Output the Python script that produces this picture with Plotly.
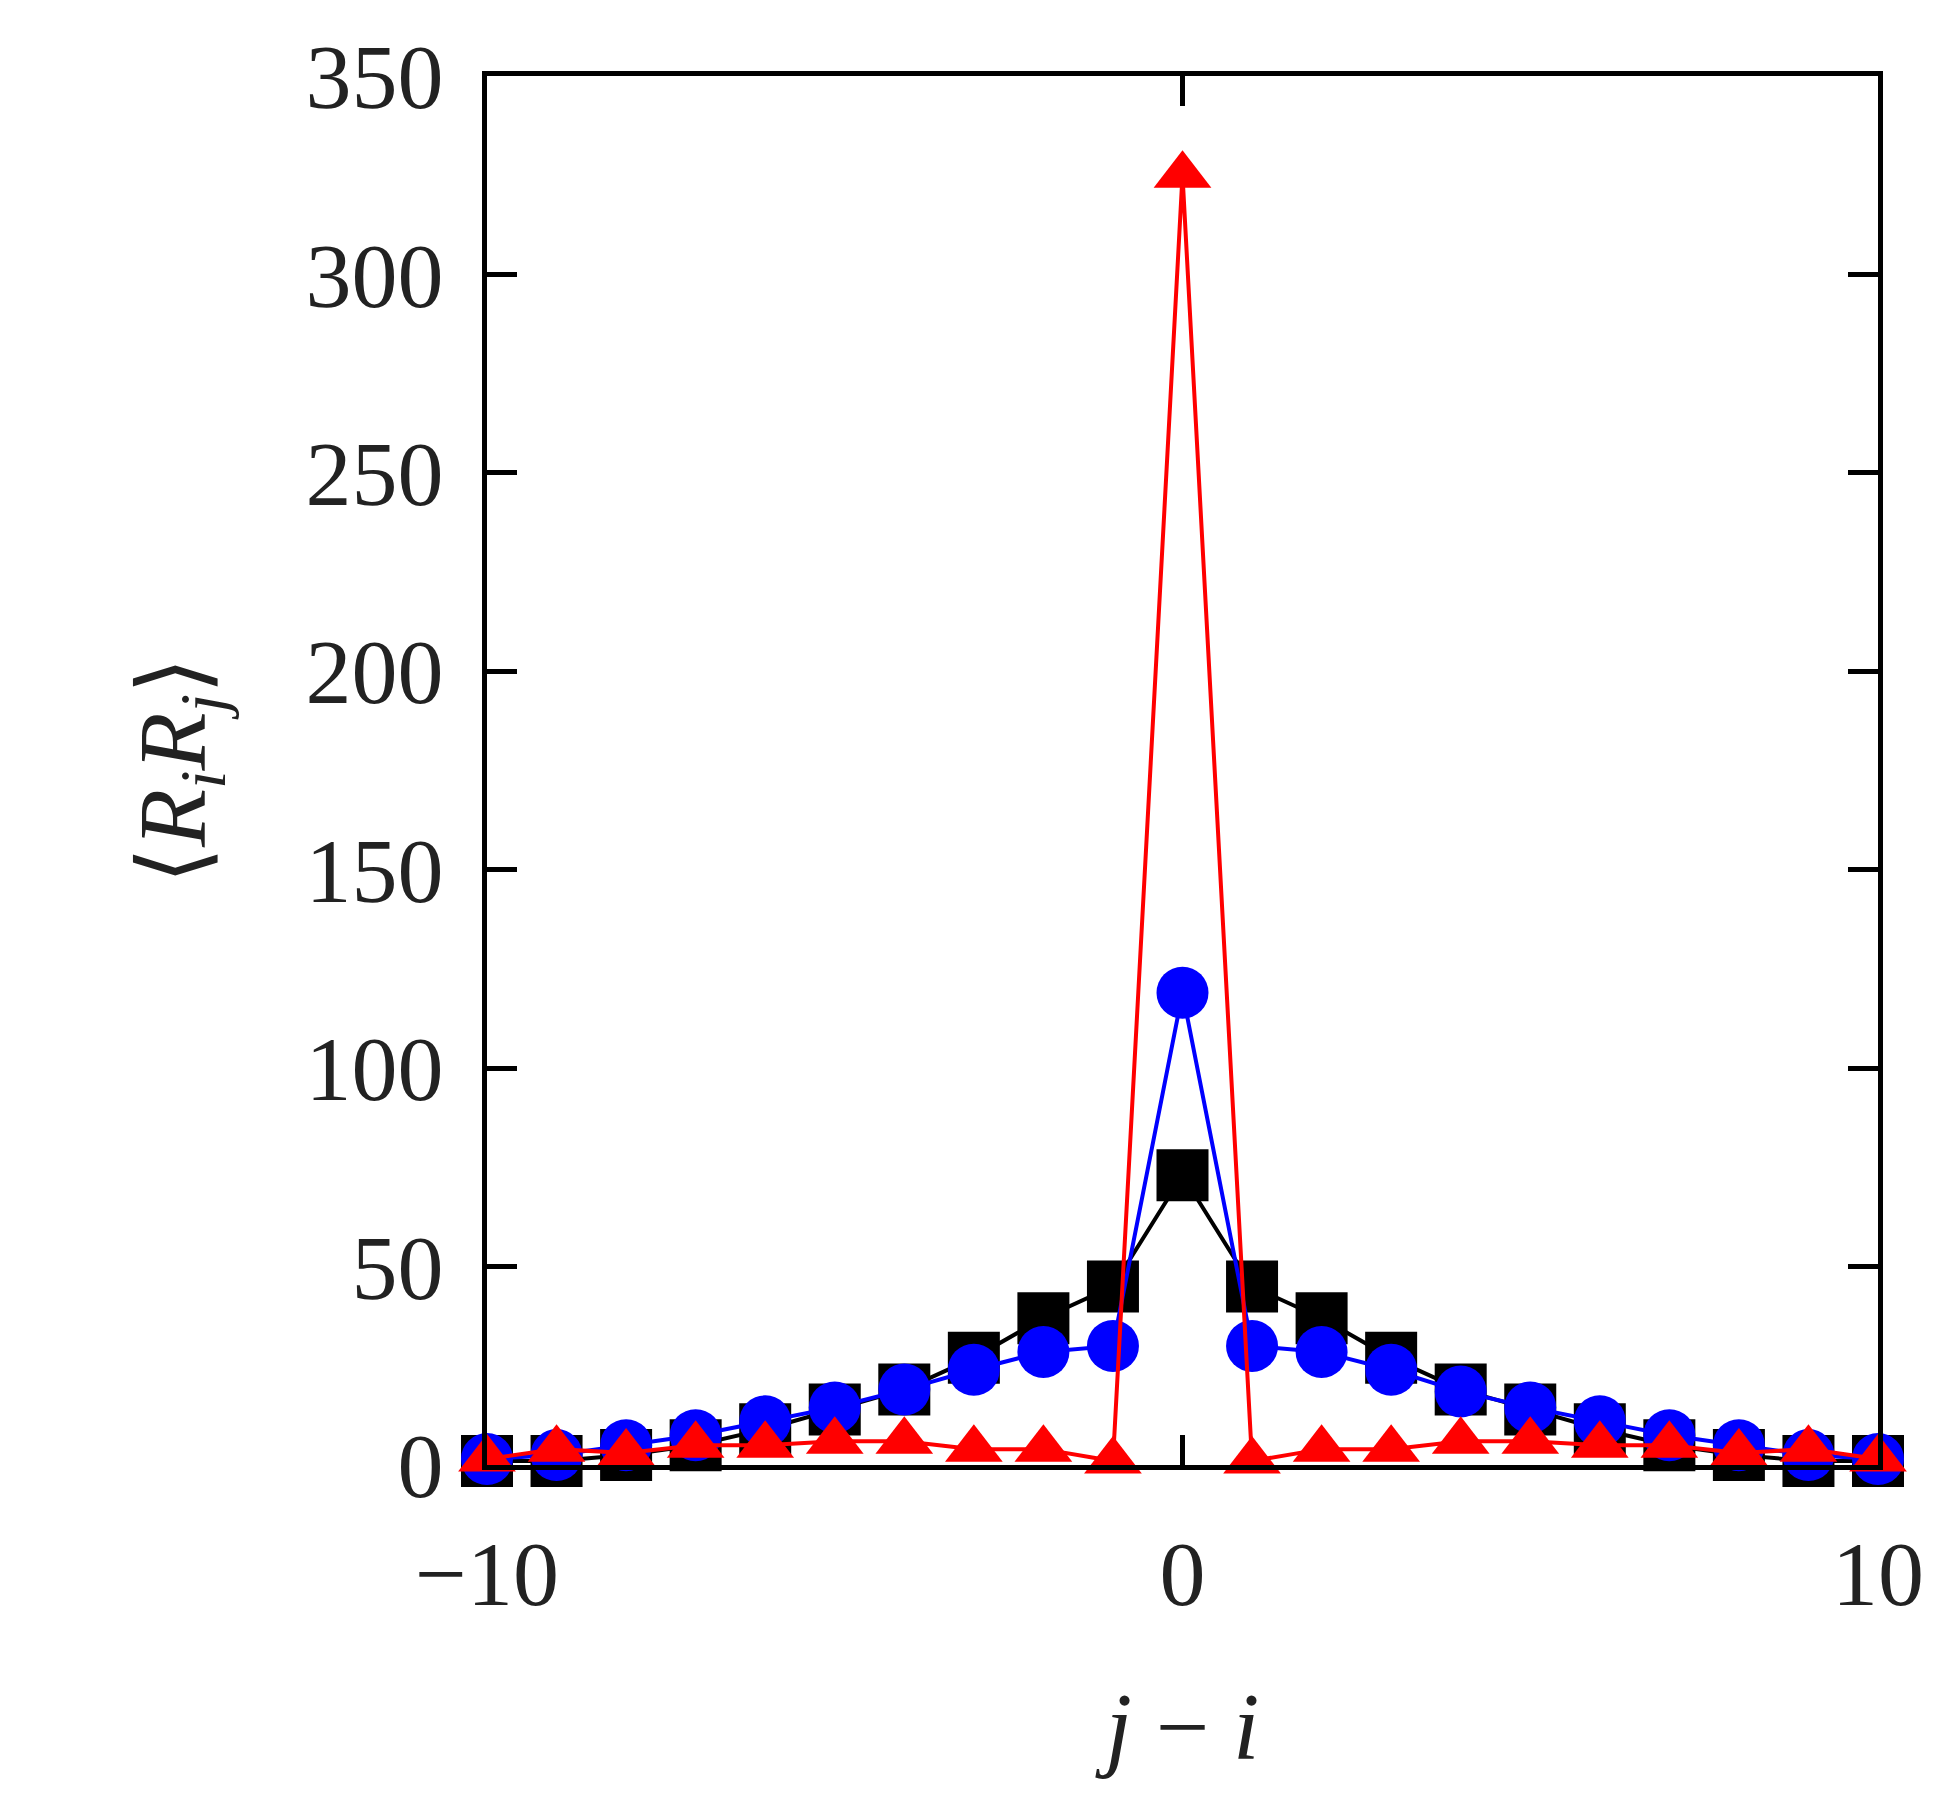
import plotly.graph_objects as go

lag = list(range(-10, 11))
squares = [1, 1, 2.5, 5, 9, 14, 19, 27, 37, 45, 73, 45, 37, 27, 19, 14, 9, 5, 2.5, 1, 1]
circles = [1.5, 2.5, 5, 7.5, 11, 14.5, 19, 24, 28.5, 30, 119, 30, 28.5, 24, 18.5, 14.5, 11, 7.5, 5, 2.5, 1.5]
triangles = [1.5, 4, 3, 5, 5, 6, 6, 4, 4, 1, 325, 1, 4, 4, 6, 6, 5, 5, 3, 4, 1.5]

fig = go.Figure()
fig.add_trace(go.Scatter(x=lag, y=squares, mode="lines+markers", cliponaxis=False,
                         line=dict(color="black", width=4),
                         marker=dict(symbol="square", size=52, color="black")))
fig.add_trace(go.Scatter(x=lag, y=circles, mode="lines+markers", cliponaxis=False,
                         line=dict(color="blue", width=4),
                         marker=dict(symbol="circle", size=52, color="blue")))
fig.add_trace(go.Scatter(x=lag, y=triangles, mode="lines+markers", cliponaxis=False,
                         line=dict(color="red", width=4),
                         marker=dict(symbol="triangle-up", size=50, color="red")))

axis = dict(showgrid=False, zeroline=False, showline=True, mirror="ticks",
            linecolor="black", linewidth=5, ticks="inside", ticklen=30,
            tickwidth=5, tickcolor="black")
fig.update_xaxes(range=[-10, 10], tickvals=[-10, 0, 10], ticktext=["\u221210", "0", "10"],
                 ticklabelstandoff=25,
                 title=dict(text="<i>j</i> \u2212 <i>i</i>", font=dict(size=95), standoff=70),
                 **axis)
fig.update_yaxes(range=[0, 350], dtick=50, ticklabelstandoff=20,
                 title=dict(text="\u27e8<i>R<sub>i</sub>R<sub>j</sub></i>\u27e9", font=dict(size=95), standoff=70),
                 **axis)
fig.update_layout(
    width=1936, height=1802, showlegend=False,
    margin=dict(l=479, r=66, t=68, b=345),
    paper_bgcolor="white", plot_bgcolor="white",
    font=dict(family="Liberation Serif, DejaVu Serif, serif", size=92, color="#222"),
)
fig.write_html("out.html")
